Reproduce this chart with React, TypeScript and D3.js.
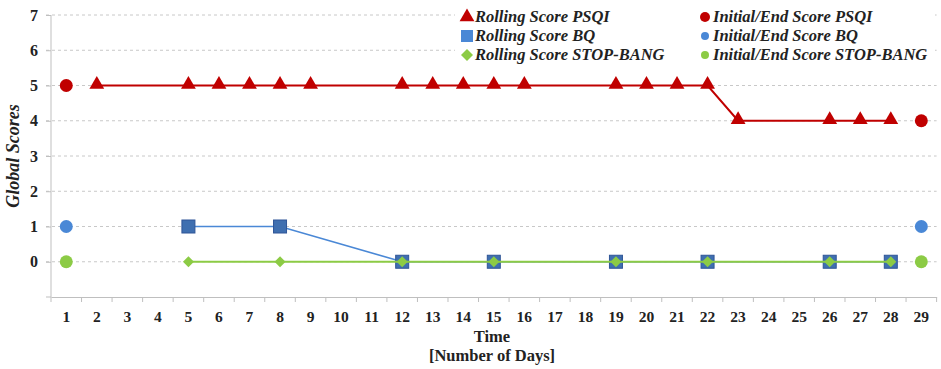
import React, { useEffect, useRef } from "react";
import * as d3 from "d3";

// Days on the x axis
const days: number[] = d3.range(1, 30);
const yTicks: number[] = [0, 1, 2, 3, 4, 5, 6, 7];

// Rolling scores
const psqiDays = [2, 5, 6, 7, 8, 9, 12, 13, 14, 15, 16, 19, 20, 21, 22, 23, 26, 27, 28];
const psqiValues = [5, 5, 5, 5, 5, 5, 5, 5, 5, 5, 5, 5, 5, 5, 5, 4, 4, 4, 4];
const bqDays = [5, 8, 12, 15, 19, 22, 26, 28];
const bqValues = [1, 1, 0, 0, 0, 0, 0, 0];
const sbDays = [5, 8, 12, 15, 19, 22, 26, 28];
const sbValues = [0, 0, 0, 0, 0, 0, 0, 0];

// Initial / end scores
const endDays = [1, 29];
const psqiEnd = [5, 4];
const bqEnd = [1, 1];
const sbEnd = [0, 0];

const RED = "#C00000";
const BLUE_SQ = "#3F6FB0";
const BLUE_SQ_EDGE = "#2F5597";
const BLUE_PT = "#4A88D6";
const GREEN = "#8CCB45";

const W = 941;
const H = 369;
const FONT = "'Liberation Serif', 'Times New Roman', serif";

export default function App() {
  const ref = useRef<SVGSVGElement | null>(null);

  useEffect(() => {
    const svg = d3.select(ref.current);
    svg.selectAll("*").remove();

    const x0 = 51, x1 = 936.6, yTop = 15, yBot = 297;
    const x = d3.scaleBand<number>().domain(days).range([x0, x1]).padding(0);
    const cx = (d: number) => (x(d) as number) + x.bandwidth() / 2;
    const y = d3.scaleLinear().domain([-1, 7]).range([yBot, yTop]);

    // gridlines
    svg.append("g")
      .selectAll("line")
      .data(yTicks)
      .join("line")
      .attr("x1", x0 - 5)
      .attr("x2", x1)
      .attr("y1", (d) => y(d))
      .attr("y2", (d) => y(d))
      .attr("stroke", "#c8c8c8")
      .attr("stroke-width", 1)
      .attr("stroke-dasharray", "3,3");

    // y axis
    const yAxis = d3.axisLeft(y).tickValues(yTicks).tickSize(5).tickFormat(d3.format("d"));
    const gy = svg.append("g").attr("transform", `translate(${x0},0)`).call(yAxis);
    gy.select(".domain").attr("stroke", "#bfbfbf").attr("d", `M-5,${yBot}H0V${y(7)}`);
    gy.selectAll(".tick line").attr("stroke", "#bfbfbf");
    gy.selectAll(".tick text")
      .attr("x", -13)
      .attr("font-family", FONT)
      .attr("font-weight", "bold")
      .attr("font-size", 16)
      .attr("fill", "#222");

    // x axis
    const xAxis = d3.axisBottom(x).tickSize(0).tickFormat((d) => String(d));
    const gx = svg.append("g").attr("transform", `translate(0,${yBot})`).call(xAxis);
    gx.select(".domain").attr("stroke", "#bfbfbf");
    gx.selectAll(".tick text")
      .attr("y", 14)
      .attr("font-family", FONT)
      .attr("font-weight", "bold")
      .attr("font-size", 15.5)
      .attr("fill", "#222");
    gx.selectAll(".tick line").remove();
    svg.append("g")
      .selectAll("line")
      .data(d3.range(0, days.length + 1))
      .join("line")
      .attr("x1", (i) => x0 + i * x.bandwidth())
      .attr("x2", (i) => x0 + i * x.bandwidth())
      .attr("y1", yBot)
      .attr("y2", yBot + 5)
      .attr("stroke", "#bfbfbf");

    // axis titles
    svg.append("text")
      .attr("x", 492).attr("y", 342)
      .attr("text-anchor", "middle")
      .attr("font-family", FONT).attr("font-weight", "bold").attr("font-size", 16.5)
      .attr("fill", "#222")
      .text("Time");
    svg.append("text")
      .attr("x", 492).attr("y", 361)
      .attr("text-anchor", "middle")
      .attr("font-family", FONT).attr("font-weight", "bold").attr("font-size", 16.5)
      .attr("fill", "#222")
      .text("[Number of Days]");
    svg.append("text")
      .attr("transform", `translate(19,${156}) rotate(-90)`)
      .attr("text-anchor", "middle")
      .attr("font-family", FONT).attr("font-weight", "bold").attr("font-style", "italic")
      .attr("font-size", 18).attr("fill", "#222")
      .text("Global Scores");

    const line = d3.line<[number, number]>().x((d) => cx(d[0])).y((d) => y(d[1]));
    const zip = (a: number[], b: number[]) => a.map((v, i) => [v, b[i]] as [number, number]);

    const tri = d3.symbol().type(d3.symbolTriangle).size(95);
    const dia = (s: number) => `M0,${-s}L${s},0L0,${s}L${-s},0Z`;

    // PSQI
    svg.append("path").attr("d", line(zip(psqiDays, psqiValues))).attr("fill", "none")
      .attr("stroke", RED).attr("stroke-width", 2);
    svg.append("g").selectAll("path").data(zip(psqiDays, psqiValues)).join("path")
      .attr("d", tri() as string)
      .attr("transform", (d) => `translate(${cx(d[0])},${y(d[1]) - 1})`)
      .attr("fill", RED);

    // BQ
    svg.append("path").attr("d", line(zip(bqDays, bqValues))).attr("fill", "none")
      .attr("stroke", BLUE_PT).attr("stroke-width", 1.6);
    svg.append("g").selectAll("rect").data(zip(bqDays, bqValues)).join("rect")
      .attr("x", (d) => cx(d[0]) - 6.5).attr("y", (d) => y(d[1]) - 6.5)
      .attr("width", 13).attr("height", 13)
      .attr("fill", BLUE_SQ).attr("stroke", BLUE_SQ_EDGE).attr("stroke-width", 1);

    // STOP-BANG
    svg.append("path").attr("d", line(zip(sbDays, sbValues))).attr("fill", "none")
      .attr("stroke", GREEN).attr("stroke-width", 2);
    svg.append("g").selectAll("path").data(zip(sbDays, sbValues)).join("path")
      .attr("d", dia(5.5))
      .attr("transform", (d) => `translate(${cx(d[0])},${y(d[1])})`)
      .attr("fill", GREEN);

    // initial / end points
    const endSets: [number[], string][] = [[psqiEnd, RED], [bqEnd, BLUE_PT], [sbEnd, GREEN]];
    endSets.forEach(([vals, col]) => {
      svg.append("g").selectAll("circle").data(zip(endDays, vals)).join("circle")
        .attr("cx", (d) => cx(d[0])).attr("cy", (d) => y(d[1]))
        .attr("r", 6.5).attr("fill", col);
    });

    // legend
    const lg = svg.append("g");
    lg.append("rect").attr("x", 455).attr("y", 4).attr("width", 480).attr("height", 62).attr("fill", "#fff");
    const rows = [17, 36, 55];
    const items = [
      { col: 0, row: 0, label: "Rolling Score PSQI", mk: "tri", color: RED },
      { col: 0, row: 1, label: "Rolling Score BQ", mk: "sq", color: BLUE_PT },
      { col: 0, row: 2, label: "Rolling Score STOP-BANG", mk: "dia", color: GREEN },
      { col: 1, row: 0, label: "Initial/End Score PSQI", mk: "cir", color: RED },
      { col: 1, row: 1, label: "Initial/End Score BQ", mk: "cirs", color: BLUE_PT },
      { col: 1, row: 2, label: "Initial/End Score STOP-BANG", mk: "cirs", color: GREEN },
    ];
    items.forEach((it) => {
      const mx = it.col === 0 ? 467 : 705;
      const my = rows[it.row];
      if (it.mk === "tri") {
        lg.append("path").attr("d", tri() as string).attr("transform", `translate(${mx},${my})`).attr("fill", it.color);
      } else if (it.mk === "sq") {
        lg.append("rect").attr("x", mx - 6).attr("y", my - 6).attr("width", 12).attr("height", 12).attr("fill", it.color);
      } else if (it.mk === "dia") {
        lg.append("path").attr("d", dia(6)).attr("transform", `translate(${mx},${my})`).attr("fill", it.color);
      } else {
        lg.append("circle").attr("cx", mx).attr("cy", my).attr("r", it.mk === "cir" ? 5 : 4).attr("fill", it.color);
      }
      lg.append("text")
        .attr("x", mx + 8).attr("y", my + 5)
        .attr("font-family", FONT).attr("font-weight", "bold").attr("font-style", "italic")
        .attr("font-size", 16.5).attr("fill", "#222")
        .text(it.label);
    });
  }, []);

  return (
    <svg
      ref={ref}
      width={W}
      height={H}
      style={{ position: "absolute", left: 0, top: 0, background: "#fff", display: "block" }}
    />
  );
}
